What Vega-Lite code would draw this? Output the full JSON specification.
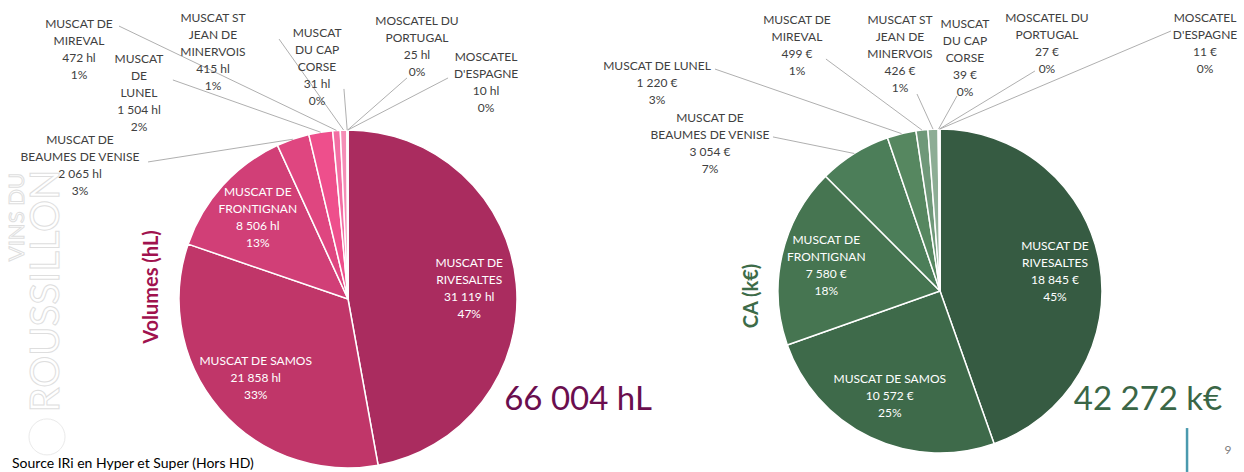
{
  "$schema": "https://vega.github.io/schema/vega-lite/v6.json",
  "padding": 0,
  "spacing": 0,
  "bounds": "flush",
  "background": "white",
  "config": {"view": {"stroke": null}, "text": {"font": "Lato"}, "concat": {"spacing": 0}},
  "resolve": {"scale": {"color": "independent", "x": "independent", "y": "independent"}},
  "datasets": {
    "volumes": [
      {"rank": 1, "name": "MUSCAT DE RIVESALTES", "label": "MUSCAT DE|RIVESALTES", "value": 31119},
      {"rank": 2, "name": "MUSCAT DE SAMOS", "label": "MUSCAT DE SAMOS", "value": 21858},
      {"rank": 3, "name": "MUSCAT DE FRONTIGNAN", "label": "MUSCAT DE|FRONTIGNAN", "value": 8506},
      {"rank": 4, "name": "MUSCAT DE BEAUMES DE VENISE", "label": "MUSCAT DE|BEAUMES DE VENISE", "value": 2065},
      {"rank": 5, "name": "MUSCAT DE LUNEL", "label": "MUSCAT|DE|LUNEL", "value": 1504},
      {"rank": 6, "name": "MUSCAT DE MIREVAL", "label": "MUSCAT DE|MIREVAL", "value": 472},
      {"rank": 7, "name": "MUSCAT ST JEAN DE MINERVOIS", "label": "MUSCAT ST|JEAN DE|MINERVOIS", "value": 415},
      {"rank": 8, "name": "MUSCAT DU CAP CORSE", "label": "MUSCAT|DU CAP|CORSE", "value": 31},
      {"rank": 9, "name": "MOSCATEL DU PORTUGAL", "label": "MOSCATEL DU|PORTUGAL", "value": 25},
      {"rank": 10, "name": "MOSCATEL D'ESPAGNE", "label": "MOSCATEL|D'ESPAGNE", "value": 10}
    ],
    "ca": [
      {"rank": 1, "name": "MUSCAT DE RIVESALTES", "label": "MUSCAT DE|RIVESALTES", "value": 18845},
      {"rank": 2, "name": "MUSCAT DE SAMOS", "label": "MUSCAT DE SAMOS", "value": 10572},
      {"rank": 3, "name": "MUSCAT DE FRONTIGNAN", "label": "MUSCAT DE|FRONTIGNAN", "value": 7580},
      {"rank": 4, "name": "MUSCAT DE BEAUMES DE VENISE", "label": "MUSCAT DE|BEAUMES DE VENISE", "value": 3054},
      {"rank": 5, "name": "MUSCAT DE LUNEL", "label": "MUSCAT DE LUNEL", "value": 1220},
      {"rank": 6, "name": "MUSCAT DE MIREVAL", "label": "MUSCAT DE|MIREVAL", "value": 499},
      {"rank": 7, "name": "MUSCAT ST JEAN DE MINERVOIS", "label": "MUSCAT ST|JEAN DE|MINERVOIS", "value": 426},
      {"rank": 8, "name": "MUSCAT DU CAP CORSE", "label": "MUSCAT|DU CAP|CORSE", "value": 39},
      {"rank": 9, "name": "MOSCATEL DU PORTUGAL", "label": "MOSCATEL DU|PORTUGAL", "value": 27},
      {"rank": 10, "name": "MOSCATEL D'ESPAGNE", "label": "MOSCATEL|D'ESPAGNE", "value": 11}
    ]
  },
  "hconcat": [
    {
      "width": 644,
      "height": 472,
      "layer": [
        {
          "data": {"values": [{"t": "logo"}]},
          "mark": {"type": "point", "shape": "circle", "size": 1300, "filled": false, "stroke": "#E2E2E2", "strokeWidth": 1},
          "encoding": {
            "x": {"datum": -1.781, "type": "quantitative", "axis": null, "scale": {"domain": [-2.05917, 1.75148], "nice": false, "zero": false}},
            "y": {"datum": -0.816, "type": "quantitative", "axis": null, "scale": {"domain": [-1.02367, 1.76923], "nice": false, "zero": false}}
          }
        },
        {
          "data": {"name": "volumes"},
          "mark": {"type": "arc", "outerRadius": 169, "stroke": "white", "strokeWidth": 1.5},
          "encoding": {
            "theta": {"field": "value", "type": "quantitative", "stack": true},
            "order": {"field": "rank", "type": "quantitative"},
            "color": {"field": "name", "type": "nominal", "legend": null,
              "scale": {"domain": ["MUSCAT DE RIVESALTES", "MUSCAT DE SAMOS", "MUSCAT DE FRONTIGNAN", "MUSCAT DE BEAUMES DE VENISE", "MUSCAT DE LUNEL", "MUSCAT DE MIREVAL", "MUSCAT ST JEAN DE MINERVOIS", "MUSCAT DU CAP CORSE", "MOSCATEL DU PORTUGAL", "MOSCATEL D'ESPAGNE"],
                "range": ["#AA2C5F", "#C03669", "#D13F77", "#DF4680", "#EE4F8C", "#F36EA3", "#F58DB6", "#F7A6C6", "#F9BCD4", "#FAD0E0"]}},
            "x": {"datum": 0, "type": "quantitative", "axis": null, "scale": {"domain": [-2.05917, 1.75148], "nice": false, "zero": false}},
            "y": {"datum": 0, "type": "quantitative", "axis": null, "scale": {"domain": [-1.02367, 1.76923], "nice": false, "zero": false}}
          }
        },
        {
          "data": {"name": "volumes"},
          "transform": [
            {"joinaggregate": [{"op": "sum", "field": "value", "as": "total"}]},
            {"window": [{"op": "sum", "field": "value", "as": "cum"}], "sort": [{"field": "rank"}], "frame": [null, 0]},
            {"calculate": "(datum.cum - datum.value / 2) / datum.total * 2 * PI", "as": "mid"},
            {"calculate": "sin(datum.mid)", "as": "ex"},
            {"calculate": "cos(datum.mid)", "as": "ey"},
            {"filter": "datum.rank >= 4"},
            {"calculate": "[0,0,0,-1.183,-1.036,-1.355,-0.408,-0.024,0.349,0.592][datum.rank - 1]", "as": "ax"},
            {"calculate": "[0,0,0,0.811,1.296,1.615,1.538,1.243,1.308,1.308][datum.rank - 1]", "as": "ay"}
          ],
          "mark": {"type": "rule", "color": "#A6A6A6", "strokeWidth": 0.9},
          "encoding": {
            "x": {"field": "ax", "type": "quantitative", "axis": null, "scale": {"domain": [-2.05917, 1.75148], "nice": false, "zero": false}},
            "x2": {"field": "ex"},
            "y": {"field": "ay", "type": "quantitative", "axis": null, "scale": {"domain": [-1.02367, 1.76923], "nice": false, "zero": false}},
            "y2": {"field": "ey"}
          }
        },
        {
          "data": {"name": "volumes"},
          "transform": [
            {"joinaggregate": [{"op": "sum", "field": "value", "as": "total"}]},
            {"calculate": "datum.label + '|' + replace(format(datum.value, ','), ',', ' ') + ' hl|' + format(datum.value / datum.total, '.0%')", "as": "txt"},
            {"filter": "datum.rank >= 4"},
            {"calculate": "[0,0,0,-1.586,-1.237,-1.592,-0.799,-0.183,0.408,0.817][datum.rank - 1]", "as": "lx"},
            {"calculate": "[0,0,0,0.941,1.420,1.627,1.663,1.574,1.645,1.432][datum.rank - 1]", "as": "ly"}
          ],
          "mark": {"type": "text", "fontSize": 12, "lineHeight": 17, "lineBreak": "|", "align": "center", "baseline": "middle", "color": "#404040"},
          "encoding": {
            "x": {"field": "lx", "type": "quantitative", "axis": null, "scale": {"domain": [-2.05917, 1.75148], "nice": false, "zero": false}},
            "y": {"field": "ly", "type": "quantitative", "axis": null, "scale": {"domain": [-1.02367, 1.76923], "nice": false, "zero": false}},
            "text": {"field": "txt"}
          }
        },
        {
          "data": {"name": "volumes"},
          "transform": [
            {"joinaggregate": [{"op": "sum", "field": "value", "as": "total"}]},
            {"window": [{"op": "sum", "field": "value", "as": "cum"}], "sort": [{"field": "rank"}], "frame": [null, 0]},
            {"calculate": "(datum.cum - datum.value / 2) / datum.total * 2 * PI", "as": "mid"},
            {"calculate": "length(split(datum.label, '|')) + 2", "as": "nlines"},
            {"calculate": "0.72 * sin(datum.mid)", "as": "ix"},
            {"calculate": "0.72 * cos(datum.mid) + (datum.nlines - 1) * 8.5 / 169", "as": "iy"},
            {"calculate": "datum.label + '|' + replace(format(datum.value, ','), ',', ' ') + ' hl|' + format(datum.value / datum.total, '.0%')", "as": "txt"},
            {"filter": "datum.rank <= 3"}
          ],
          "mark": {"type": "text", "fontSize": 12, "lineHeight": 17, "lineBreak": "|", "align": "center", "baseline": "middle", "color": "white"},
          "encoding": {
            "x": {"field": "ix", "type": "quantitative", "axis": null, "scale": {"domain": [-2.05917, 1.75148], "nice": false, "zero": false}},
            "y": {"field": "iy", "type": "quantitative", "axis": null, "scale": {"domain": [-1.02367, 1.76923], "nice": false, "zero": false}},
            "text": {"field": "txt"}
          }
        },
        {
          "data": {"values": [{"t": "Volumes (hL)"}]},
          "mark": {"type": "text", "fontSize": 20, "fontWeight": "bold", "angle": 270, "align": "center", "baseline": "middle", "color": "#A0124E"},
          "encoding": {
            "x": {"datum": -1.160, "type": "quantitative"},
            "y": {"datum": 0.071, "type": "quantitative"},
            "text": {"field": "t"}
          }
        },
        {
          "data": {"values": [{"amount": 66004, "unit": "hL"}]},
          "transform": [{"calculate": "replace(format(datum.amount, ','), ',', ' ') + ' ' + datum.unit", "as": "t"}],
          "mark": {"type": "text", "fontSize": 33, "fontWeight": "normal", "align": "center", "baseline": "alphabetic", "color": "#6A0E4E"},
          "encoding": {
            "x": {"datum": 1.361, "type": "quantitative"},
            "y": {"datum": -0.657, "type": "quantitative"},
            "text": {"field": "t"}
          }
        },
        {
          "data": {"values": [{"t": "VINS DU"}]},
          "mark": {"type": "text", "fontSize": 22, "angle": 270, "align": "center", "baseline": "middle", "fillOpacity": 0, "stroke": "#DEDEDE", "strokeWidth": 1},
          "encoding": {
            "x": {"datum": -1.959, "type": "quantitative"},
            "y": {"datum": 0.485, "type": "quantitative"},
            "text": {"field": "t"}
          }
        },
        {
          "data": {"values": [{"t": "ROUSSILLON"}]},
          "mark": {"type": "text", "fontSize": 40, "angle": 270, "align": "center", "baseline": "middle", "fillOpacity": 0, "stroke": "#DEDEDE", "strokeWidth": 1},
          "encoding": {
            "x": {"datum": -1.781, "type": "quantitative"},
            "y": {"datum": 0.047, "type": "quantitative"},
            "text": {"field": "t"}
          }
        },
        {
          "data": {"values": [{"t": "Source IRi en Hyper et Super (Hors HD)"}]},
          "mark": {"type": "text", "fontSize": 14, "align": "left", "baseline": "alphabetic", "color": "#000000"},
          "encoding": {
            "x": {"datum": -1.988, "type": "quantitative"},
            "y": {"datum": -0.998, "type": "quantitative"},
            "text": {"field": "t"}
          }
        }
      ]
    },
    {
      "width": 600,
      "height": 472,
      "layer": [
        {
          "data": {"name": "ca"},
          "mark": {"type": "arc", "outerRadius": 162, "stroke": "white", "strokeWidth": 1.5},
          "encoding": {
            "theta": {"field": "value", "type": "quantitative", "stack": true},
            "order": {"field": "rank", "type": "quantitative"},
            "color": {"field": "name", "type": "nominal", "legend": null,
              "scale": {"domain": ["MUSCAT DE RIVESALTES", "MUSCAT DE SAMOS", "MUSCAT DE FRONTIGNAN", "MUSCAT DE BEAUMES DE VENISE", "MUSCAT DE LUNEL", "MUSCAT DE MIREVAL", "MUSCAT ST JEAN DE MINERVOIS", "MUSCAT DU CAP CORSE", "MOSCATEL DU PORTUGAL", "MOSCATEL D'ESPAGNE"],
                "range": ["#365B42", "#3E6A4A", "#467551", "#4C7E59", "#568760", "#6F9879", "#8DAD95", "#A7C0AD", "#BCCFC0", "#D0DDD3"]}},
            "x": {"datum": 0, "type": "quantitative", "axis": null, "scale": {"domain": [-1.82716, 1.87654], "nice": false, "zero": false}},
            "y": {"datum": 0, "type": "quantitative", "axis": null, "scale": {"domain": [-1.11728, 1.79630], "nice": false, "zero": false}}
          }
        },
        {
          "data": {"name": "ca"},
          "transform": [
            {"joinaggregate": [{"op": "sum", "field": "value", "as": "total"}]},
            {"window": [{"op": "sum", "field": "value", "as": "cum"}], "sort": [{"field": "rank"}], "frame": [null, 0]},
            {"calculate": "(datum.cum - datum.value / 2) / datum.total * 2 * PI", "as": "mid"},
            {"calculate": "sin(datum.mid)", "as": "ex"},
            {"calculate": "cos(datum.mid)", "as": "ey"},
            {"filter": "datum.rank >= 4"},
            {"calculate": "[0,0,0,-1.031,-1.389,-0.704,-0.142,0.105,0.586,1.426][datum.rank - 1]", "as": "ax"},
            {"calculate": "[0,0,0,0.951,1.370,1.432,1.216,1.204,1.358,1.605][datum.rank - 1]", "as": "ay"}
          ],
          "mark": {"type": "rule", "color": "#A6A6A6", "strokeWidth": 0.9},
          "encoding": {
            "x": {"field": "ax", "type": "quantitative", "axis": null, "scale": {"domain": [-1.82716, 1.87654], "nice": false, "zero": false}},
            "x2": {"field": "ex"},
            "y": {"field": "ay", "type": "quantitative", "axis": null, "scale": {"domain": [-1.11728, 1.79630], "nice": false, "zero": false}},
            "y2": {"field": "ey"}
          }
        },
        {
          "data": {"name": "ca"},
          "transform": [
            {"joinaggregate": [{"op": "sum", "field": "value", "as": "total"}]},
            {"calculate": "datum.label + '|' + replace(format(datum.value, ','), ',', ' ') + ' €|' + format(datum.value / datum.total, '.0%')", "as": "txt"},
            {"filter": "datum.rank >= 4"},
            {"calculate": "[0,0,0,-1.420,-1.747,-0.883,-0.247,0.154,0.660,1.636][datum.rank - 1]", "as": "lx"},
            {"calculate": "[0,0,0,1.068,1.389,1.673,1.673,1.648,1.685,1.685][datum.rank - 1]", "as": "ly"}
          ],
          "mark": {"type": "text", "fontSize": 12, "lineHeight": 17, "lineBreak": "|", "align": "center", "baseline": "middle", "color": "#404040"},
          "encoding": {
            "x": {"field": "lx", "type": "quantitative", "axis": null, "scale": {"domain": [-1.82716, 1.87654], "nice": false, "zero": false}},
            "y": {"field": "ly", "type": "quantitative", "axis": null, "scale": {"domain": [-1.11728, 1.79630], "nice": false, "zero": false}},
            "text": {"field": "txt"}
          }
        },
        {
          "data": {"name": "ca"},
          "transform": [
            {"joinaggregate": [{"op": "sum", "field": "value", "as": "total"}]},
            {"window": [{"op": "sum", "field": "value", "as": "cum"}], "sort": [{"field": "rank"}], "frame": [null, 0]},
            {"calculate": "(datum.cum - datum.value / 2) / datum.total * 2 * PI", "as": "mid"},
            {"calculate": "length(split(datum.label, '|')) + 2", "as": "nlines"},
            {"calculate": "0.72 * sin(datum.mid)", "as": "ix"},
            {"calculate": "0.72 * cos(datum.mid) + (datum.nlines - 1) * 8.5 / 162", "as": "iy"},
            {"calculate": "datum.label + '|' + replace(format(datum.value, ','), ',', ' ') + ' €|' + format(datum.value / datum.total, '.0%')", "as": "txt"},
            {"filter": "datum.rank <= 3"}
          ],
          "mark": {"type": "text", "fontSize": 12, "lineHeight": 17, "lineBreak": "|", "align": "center", "baseline": "middle", "color": "white"},
          "encoding": {
            "x": {"field": "ix", "type": "quantitative", "axis": null, "scale": {"domain": [-1.82716, 1.87654], "nice": false, "zero": false}},
            "y": {"field": "iy", "type": "quantitative", "axis": null, "scale": {"domain": [-1.11728, 1.79630], "nice": false, "zero": false}},
            "text": {"field": "txt"}
          }
        },
        {
          "data": {"values": [{"t": "CA (k€)"}]},
          "mark": {"type": "text", "fontSize": 20, "fontWeight": "bold", "angle": 270, "align": "center", "baseline": "middle", "color": "#3D6B48"},
          "encoding": {
            "x": {"datum": -1.160, "type": "quantitative"},
            "y": {"datum": -0.031, "type": "quantitative"},
            "text": {"field": "t"}
          }
        },
        {
          "data": {"values": [{"amount": 42272, "unit": "k€"}]},
          "transform": [{"calculate": "replace(format(datum.amount, ','), ',', ' ') + ' ' + datum.unit", "as": "t"}],
          "mark": {"type": "text", "fontSize": 33, "fontWeight": "normal", "align": "center", "baseline": "alphabetic", "color": "#3A6646"},
          "encoding": {
            "x": {"datum": 1.284, "type": "quantitative"},
            "y": {"datum": -0.735, "type": "quantitative"},
            "text": {"field": "t"}
          }
        },
        {
          "data": {"values": [{"page": 9}]},
          "mark": {"type": "rule", "color": "#4A9AAE", "strokeWidth": 2.5},
          "encoding": {
            "x": {"datum": 1.525, "type": "quantitative"},
            "y": {"datum": -0.846, "type": "quantitative"},
            "y2": {"datum": -1.117}
          }
        },
        {
          "data": {"values": [{"page": 9}]},
          "mark": {"type": "text", "fontSize": 12, "align": "center", "baseline": "middle", "color": "#808080"},
          "encoding": {
            "x": {"datum": 1.778, "type": "quantitative"},
            "y": {"datum": -0.981, "type": "quantitative"},
            "text": {"field": "page"}
          }
        }
      ]
    }
  ]
}
